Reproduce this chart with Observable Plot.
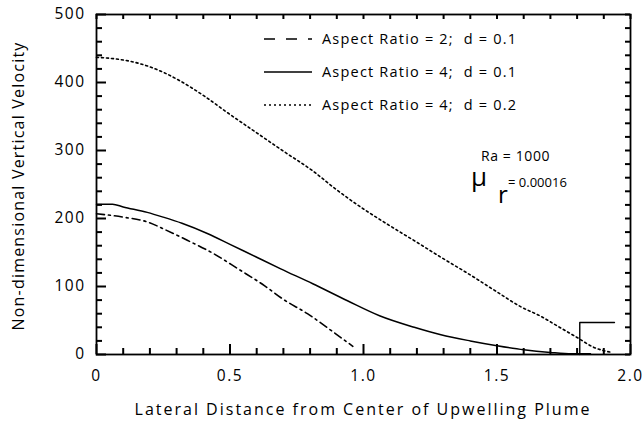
<!DOCTYPE html>
<html><head><meta charset="utf-8">
<script src="https://cdn.jsdelivr.net/npm/d3@7"></script>
<script src="https://cdn.jsdelivr.net/npm/@observablehq/plot@0.6"></script>
<style>
body{margin:0;background:#fff}
svg text{font-family:"Open Sans",sans-serif}
g[aria-label="x-axis tick label"] text, g[aria-label="y-axis tick label"] text{letter-spacing:1.5px}
</style></head><body><div id="chart"></div>
<script>
// Aspect Ratio = 2; d = 0.1 (dash-dot)
const ar2X = [0, 0.10, 0.19, 0.26, 0.34, 0.44, 0.53, 0.63, 0.70, 0.79, 0.88, 0.96];
const ar2Y = [207, 202, 195, 183, 168, 148, 126, 101, 81, 60, 35, 12];
// Aspect Ratio = 4; d = 0.1 (solid)
const ar4X = [0, 0.06, 0.10, 0.19, 0.25, 0.32, 0.415, 0.50, 0.60, 0.69, 0.81, 0.94, 1.06, 1.19, 1.29, 1.40, 1.50, 1.60, 1.70, 1.78, 1.85];
const ar4Y = [221, 221, 217, 209, 202, 193, 178, 162, 143, 126, 104, 79, 57, 40, 29, 20, 13, 7, 3, 1, 1];
// Aspect Ratio = 4; d = 0.2 (dotted)
const ar4d2X = [0, 0.065, 0.14, 0.20, 0.25, 0.31, 0.40, 0.50, 0.60, 0.70, 0.81, 0.90, 1.0, 1.10, 1.20, 1.29, 1.40, 1.50, 1.59, 1.66, 1.73, 1.80, 1.86, 1.93];
const ar4d2Y = [437, 435, 430, 423, 415, 403, 381, 353, 326, 299, 270, 242, 214, 189, 165, 143, 117, 92, 70, 57, 41, 25, 11, 3];
// stray step line near bottom right
const stepX = [1.81, 1.81, 1.94];
const stepY = [0, 47, 47];

const xMajor = [0, 0.5, 1.0, 1.5, 2.0];
const xLabels = ["0", "0.5", "1.0", "1.5", "2.0"];
const xMinor = [0.1,0.2,0.3,0.4,0.6,0.7,0.8,0.9,1.1,1.2,1.3,1.4,1.6,1.7,1.8,1.9];
const yMajor = [0, 100, 200, 300, 400, 500];
const yMinor = [20,40,60,80,120,140,160,180,220,240,260,280,320,340,360,380,420,440,460,480];

const legendLabels = ["Aspect Ratio = 2;  d = 0.1", "Aspect Ratio = 4;  d = 0.1", "Aspect Ratio = 4;  d = 0.2"];
const legendDash = ["11,11", null, "2,3"];
const xTitle = "Lateral Distance from Center of Upwelling Plume";
const yTitle = "Non-dimensional Vertical Velocity";

const pts = (xs, ys) => xs.map((x, i) => ({x, y: ys[i]}));

// plot geometry and tick lengths (px) converted to data units
const W = 644, H = 422, ML = 96, MR = 14, MT = 14, MB = 68;
const XMAX = 2, YMAX = 500;
const dxPx = XMAX / (W - ML - MR), dyPx = YMAX / (H - MT - MB);
const TMAJ = 10, TMIN = 6, TOPP = 5;

const svg = Plot.plot({
  width: W, height: H,
  marginLeft: ML, marginRight: MR, marginTop: MT, marginBottom: MB,
  x: {domain: [0, XMAX]},
  y: {domain: [0, YMAX]},
  style: {fontFamily: "Open Sans", fontSize: "15.5px", color: "black", background: "white"},
  marks: [
    Plot.line(pts(ar2X, ar2Y), {x: "x", y: "y", stroke: "black", strokeWidth: 1.6, strokeDasharray: "8,4,2,4", curve: "monotone-x"}),
    Plot.line(pts(ar4X, ar4Y), {x: "x", y: "y", stroke: "black", strokeWidth: 1.5, curve: "monotone-x"}),
    Plot.line(pts(ar4d2X, ar4d2Y), {x: "x", y: "y", stroke: "black", strokeWidth: 1.6, strokeDasharray: "2,3", curve: "monotone-x"}),
    Plot.line(pts(stepX, stepY), {x: "x", y: "y", stroke: "black", strokeWidth: 1.4}),
    // inward ticks
    Plot.ruleX(xMajor, {x: d => d, y1: 0, y2: TMAJ * dyPx, stroke: "black", strokeWidth: 2}),
    Plot.ruleX(xMinor, {x: d => d, y1: 0, y2: TMIN * dyPx, stroke: "black", strokeWidth: 2}),
    Plot.ruleX(xMajor.concat(xMinor), {x: d => d, y1: YMAX, y2: YMAX - TOPP * dyPx, stroke: "black", strokeWidth: 2}),
    Plot.ruleY(yMajor, {y: d => d, x1: 0, x2: TMAJ * dxPx, stroke: "black", strokeWidth: 2}),
    Plot.ruleY(yMinor, {y: d => d, x1: 0, x2: TMIN * dxPx, stroke: "black", strokeWidth: 2}),
    Plot.ruleY(yMajor.concat(yMinor), {y: d => d, x1: XMAX, x2: XMAX - TOPP * dxPx, stroke: "black", strokeWidth: 2}),
    Plot.frame({stroke: "black", strokeWidth: 1.8}),
    Plot.axisX({anchor: "bottom", ticks: xMajor, tickSize: 0, tickPadding: 15, tickFormat: (d, i) => xLabels[i], label: null}),
    Plot.axisY({anchor: "left", ticks: yMajor, tickSize: 0, tickPadding: 11, label: null})
  ]
});

const s = d3.select(svg);
const sx = svg.scale("x"), sy = svg.scale("y");
const X = v => sx.apply(v), Y = v => sy.apply(v);
const x0 = X(0), x1 = X(XMAX), yb = Y(0), yt = Y(YMAX);

// axis titles
s.append("text").attr("x", (x0 + x1) / 2).attr("y", 409).attr("dy", "0.35em").attr("text-anchor", "middle")
  .attr("font-size", 16).style("letter-spacing", "2px").attr("fill", "black").text(xTitle);
s.append("text").attr("transform", `translate(18,${(yt + yb) / 2 + 2}) rotate(-90)`).attr("dy", "0.35em").attr("text-anchor", "middle")
  .attr("font-size", 16).style("letter-spacing", "1.2px").attr("fill", "black").text(yTitle);

// legend
const rows = [39, 72, 105];
legendLabels.forEach((t, i) => {
  const ln = s.append("line").attr("x1", 264).attr("x2", 312).attr("y1", rows[i]).attr("y2", rows[i])
    .attr("stroke", "black").attr("stroke-width", 1.5);
  if (legendDash[i]) ln.attr("stroke-dasharray", legendDash[i]);
  s.append("text").attr("x", 322).attr("y", rows[i]).attr("dy", "0.35em").attr("text-anchor", "start")
    .attr("font-size", 14.5).style("letter-spacing", "1.2px").style("white-space", "pre")
    .attr("fill", "black").text(t);
});
// annotation
const ann = (x, y, size, txt, dy) => s.append("text").attr("x", x).attr("y", y).attr("dy", dy || null)
  .attr("text-anchor", "start").attr("font-size", size).attr("fill", "black").text(txt);
ann(481, 156, 14, "Ra = 1000", "0.35em").style("letter-spacing", "0.6px");
ann(471, 186, 26, "μ");
ann(498, 203, 24, "r");
ann(508, 182, 13, "= 0.00016", "0.35em");

document.getElementById("chart").appendChild(svg);
</script></body></html>
